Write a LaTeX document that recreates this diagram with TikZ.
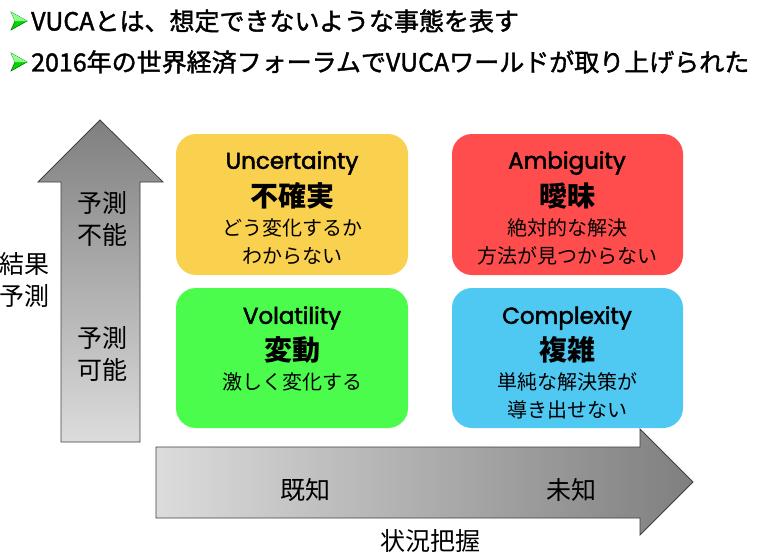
\documentclass[tikz,border=0pt]{standalone}
\usepackage{fontspec}
\newfontfamily\jp{Noto Sans CJK JP}
\newfontfamily\jpm[FakeBold=1.5]{Noto Sans CJK JP}
\newfontfamily\geo[FakeBold=2.2]{Poppins}
\definecolor{cyel}{HTML}{FAD04F}
\definecolor{cred}{HTML}{FF4D4D}
\definecolor{cgrn}{HTML}{4CFC4C}
\definecolor{cblu}{HTML}{4FC8F2}
\definecolor{arrline}{HTML}{404040}
\definecolor{gdark}{HTML}{7F7F7F}
\definecolor{glight}{HTML}{DCDCDC}
\tikzset{
  card/.style={rounded corners=20pt, inner sep=0pt},
  entitle/.style={font=\geo\fontsize{23}{26}\selectfont, anchor=center},
  jptitle/.style={font=\jp\bfseries\fontsize{28}{30}\selectfont, anchor=center},
  jpbody/.style={font=\jp\fontsize{20}{24}\selectfont, anchor=center},
  axislab/.style={font=\jp\fontsize{25}{32}\selectfont, align=center, anchor=center},
  bullettxt/.style={font=\jpm\fontsize{25}{28}\selectfont, anchor=west, inner sep=0pt},
  bulletmark/.style={fill=green!85!black, draw=green!40!black, line width=0.5pt},
  bulletlight/.style={fill=green!45!white},
  bigarrow/.style={draw=arrline, line width=0.8pt}
}
\begin{document}
\begin{tikzpicture}[x=1pt,y=-1pt]
\useasboundingbox (0,0) rectangle (758,554);
\fill[white] (0,0) rectangle (758,554);

% bullets
\filldraw[bulletmark] (11,12) -- (27,21) -- (11,30) -- (15,21) -- cycle;
\fill[bulletlight] (11,12) -- (27,21) -- (15,21) -- cycle;
\node[bullettxt] (b1) at (31,21) {VUCAとは、想定できないような事態を表す};
\filldraw[bulletmark] (11,53) -- (27,62) -- (11,71) -- (15,62) -- cycle;
\fill[bulletlight] (11,53) -- (27,62) -- (15,62) -- cycle;
\node[bullettxt] (b2) at (31,62) {2016年の世界経済フォーラムでVUCAワールドが取り上げられた};

% vertical arrow
\path[bigarrow, top color=gdark, bottom color=glight]
  (61,442) -- (61,182) -- (38,182) -- (100,120) -- (163,182) -- (140,182) -- (140,442) -- cycle;
\node[axislab] (pu) at (102,219) {予測\\不能};
\node[axislab] (pp) at (102,354) {予測\\可能};
\node[axislab, anchor=east] (kk) at (53,280) {結果\\予測};

% horizontal arrow
\path[bigarrow, left color=glight, right color=gdark]
  (156,447) -- (640,447) -- (640,429) -- (693,482) -- (640,535) -- (640,518) -- (156,518) -- cycle;
\node[axislab] (kc) at (305,490) {既知};
\node[axislab] (mc) at (571,490) {未知};
\node[axislab] (jh) at (430,541) {状況把握};

% cards
\fill[cyel, card] (176,134) rectangle (408,275);
\fill[cred, card] (452,134) rectangle (683,275);
\fill[cgrn, card] (176,288) rectangle (408,428);
\fill[cblu, card] (452,288) rectangle (683,428);

\node[entitle] (u1) at (292,163) {Uncertainty};
\node[jptitle] (u2) at (292,196) {不確実};
\node[jpbody] (u3) at (292,228) {どう変化するか};
\node[jpbody] (u4) at (292,256) {わからない};

\node[entitle] (a1) at (567,163) {Ambiguity};
\node[jptitle] (a2) at (567,196) {曖昧};
\node[jpbody] (a3) at (567,228) {絶対的な解決};
\node[jpbody] (a4) at (567,256) {方法が見つからない};

\node[entitle] (v1) at (292,318) {Volatility};
\node[jptitle] (v2) at (292,350) {変動};
\node[jpbody] (v3) at (292,382) {激しく変化する};

\node[entitle] (c1) at (567,318) {Complexity};
\node[jptitle] (c2) at (567,350) {複雑};
\node[jpbody] (c3) at (567,382) {単純な解決策が};
\node[jpbody] (c4) at (567,410) {導き出せない};
\end{tikzpicture}
\end{document}
